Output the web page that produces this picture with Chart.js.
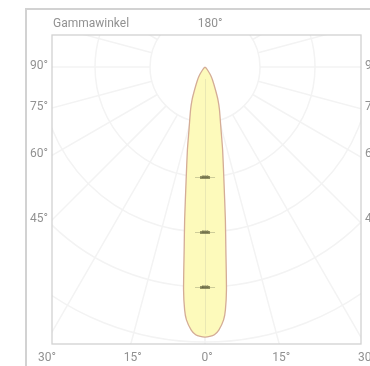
<!DOCTYPE html>
<html>
<head>
<meta charset="utf-8">
<script src="https://cdn.jsdelivr.net/npm/chart.js@4.4.0/dist/chart.umd.min.js"></script>
<style>
  html, body { margin: 0; padding: 0; background: #fff; }
  canvas { display: block; }
</style>
</head>
<body>
<canvas id="ldc" width="370" height="366"></canvas>
<script>
// gamma angles (deg from nadir) and luminous intensity (cd) for the C0/C180 plane
const gammaAngles = [0, 1, 2, 3, 4.2, 4.8, 5.5, 6.5, 7.6, 9.5, 12, 14.3, 18.6, 21.5, 24.5, 30, 34.5, 40, 50, 90];
const intensity = [4910, 4900, 4870, 4790, 4610, 4430, 4070, 3350, 2800, 2080, 1540, 1180, 825, 645, 460, 273, 176, 71, 20, 0];

// grid rings (cd) and the ones that get a value label
const ringValues = [1000, 2000, 3000, 4000, 5000, 6000, 7000];
const ringLabels = ["2000", "3000", "4000"];
const spokeAngles = [0, 15, 30, 45, 60, 75, 90, 105, 120, 135, 150, 165, 180];

// angle labels around the frame
const bottomLabels = [30, 15, 0, 15, 30];
const bottomSigns = [-1, -1, 0, 1, 1];
const sideLabels = [90, 75, 60, 45];
const topLabel = "180°";
const axisTitle = "Gammawinkel";

const rad = d => d * Math.PI / 180;

// closed polar curve: -90 .. 0 .. 90
const curve = [];
for (let i = gammaAngles.length - 1; i > 0; i--) {
  const a = -rad(gammaAngles[i]);
  curve.push({ x: intensity[i] * Math.sin(a), y: -intensity[i] * Math.cos(a) });
}
for (let i = 0; i < gammaAngles.length; i++) {
  const a = rad(gammaAngles[i]);
  curve.push({ x: intensity[i] * Math.sin(a), y: -intensity[i] * Math.cos(a) });
}

const gridColor = "rgb(243, 243, 243)";
const textColor = "rgb(145, 145, 145)";
const frameColor = "rgb(210, 210, 210)";

const polarGrid = {
  id: "polarGrid",
  beforeDatasetsDraw(chart) {
    const { ctx, chartArea: ca, scales } = chart;
    const ox = scales.x.getPixelForValue(0);
    const oy = scales.y.getPixelForValue(0);
    const unit = Math.abs(scales.x.getPixelForValue(1000) - ox) / 1000;
    ctx.save();
    ctx.beginPath();
    ctx.rect(ca.left, ca.top, ca.right - ca.left, ca.bottom - ca.top);
    ctx.clip();
    ctx.strokeStyle = gridColor;
    ctx.lineWidth = 1.5;
    ringValues.forEach(v => {
      ctx.beginPath();
      ctx.arc(ox, oy, v * unit, 0, Math.PI * 2);
      ctx.stroke();
    });
    const inner = ringValues[0] * unit;
    const far = 800;
    spokeAngles.forEach(a => {
      [-1, 1].forEach(s => {
        const dx = s * Math.sin(rad(a));
        const dy = Math.cos(rad(a));
        ctx.beginPath();
        ctx.moveTo(ox + dx * inner, oy + dy * inner);
        ctx.lineTo(ox + dx * far, oy + dy * far);
        ctx.stroke();
      });
    });
    ctx.restore();
  },
  afterDatasetsDraw(chart) {
    const { ctx, chartArea: ca, scales } = chart;
    const ox = scales.x.getPixelForValue(0);
    const oy = scales.y.getPixelForValue(0);
    ctx.save();
    // centre line through the beam
    ctx.strokeStyle = "rgba(210, 210, 170, 0.45)";
    ctx.lineWidth = 1;
    ctx.beginPath();
    ctx.moveTo(ox + 0.5, oy + 12);
    ctx.lineTo(ox + 0.5, ca.bottom - 10);
    ctx.stroke();
    // ring value labels (tiny)
    ctx.font = "3px Roboto";
    ctx.textAlign = "center";
    ctx.textBaseline = "middle";
    ringLabels.forEach(t => {
      const y = Math.round(scales.y.getPixelForValue(-Number(t)));
      ctx.fillStyle = "rgba(160, 160, 120, 0.5)";
      ctx.fillRect(ox - 10, y, 20, 1);
      ctx.fillStyle = "rgba(110, 110, 70, 0.75)";
      ctx.fillRect(ox - 5, y - 1, 10, 3);
      ctx.fillStyle = "rgba(80, 80, 50, 0.9)";
      ctx.fillText(t, ox, y + 0.5);
    });
    ctx.restore();
  },
  afterDraw(chart) {
    const { ctx, chartArea: ca, scales } = chart;
    const ox = scales.x.getPixelForValue(0);
    const oy = scales.y.getPixelForValue(0);
    ctx.save();
    // frames
    ctx.strokeStyle = frameColor;
    ctx.lineWidth = 2;
    ctx.beginPath();
    ctx.moveTo(26, 366);
    ctx.lineTo(26, 9);
    ctx.lineTo(370, 9);
    ctx.stroke();
    ctx.lineWidth = 1.3;
    ctx.strokeRect(ca.left, ca.top, ca.right - ca.left, ca.bottom - ca.top);
    // texts
    ctx.fillStyle = textColor;
    ctx.font = "12px Roboto";
    ctx.textBaseline = "middle";
    ctx.textAlign = "left";
    ctx.fillText(axisTitle, ca.left + 1, 24);
    ctx.textAlign = "center";
    ctx.fillText(topLabel, ox + 5, 24);
    const depth = ca.bottom - oy;
    bottomLabels.forEach((a, i) => {
      const x = ox + bottomSigns[i] * depth * Math.tan(rad(a));
      ctx.fillText(a + "°", x + 2, ca.bottom + 14);
    });
    const half = ox - ca.left;
    sideLabels.forEach(a => {
      const y = oy + half / Math.tan(rad(a));
      ctx.textAlign = "right";
      ctx.fillText(a + "°", ca.left - 4, y - 1);
      ctx.textAlign = "left";
      ctx.fillText(a + "°", ca.right + 4, y - 1);
    });
    ctx.restore();
  }
};

const ldcConfig = {
  type: "scatter",
  data: {
    datasets: [
      {
        label: "C0 - C180",
        data: curve,
        showLine: true,
        fill: "shape",
        tension: 0.2,
        pointRadius: 0,
        borderWidth: 1.3,
        borderColor: "rgb(212, 172, 150)",
        backgroundColor: "rgb(253, 250, 187)",
      },
    ],
  },
  plugins: [polarGrid],
  options: {
    responsive: false,
    animation: false,
    layout: { padding: { left: 52, top: 35, right: 9, bottom: 22 } },
    scales: {
      x: { type: "linear", display: false, min: -2782, max: 2836 },
      y: { type: "linear", display: false, min: -5036, max: 582 },
    },
    plugins: {
      legend: { display: false },
      tooltip: { enabled: false },
    },
  },
};

const ldcChart = new Chart(document.getElementById("ldc"), ldcConfig);
</script>
</body>
</html>
